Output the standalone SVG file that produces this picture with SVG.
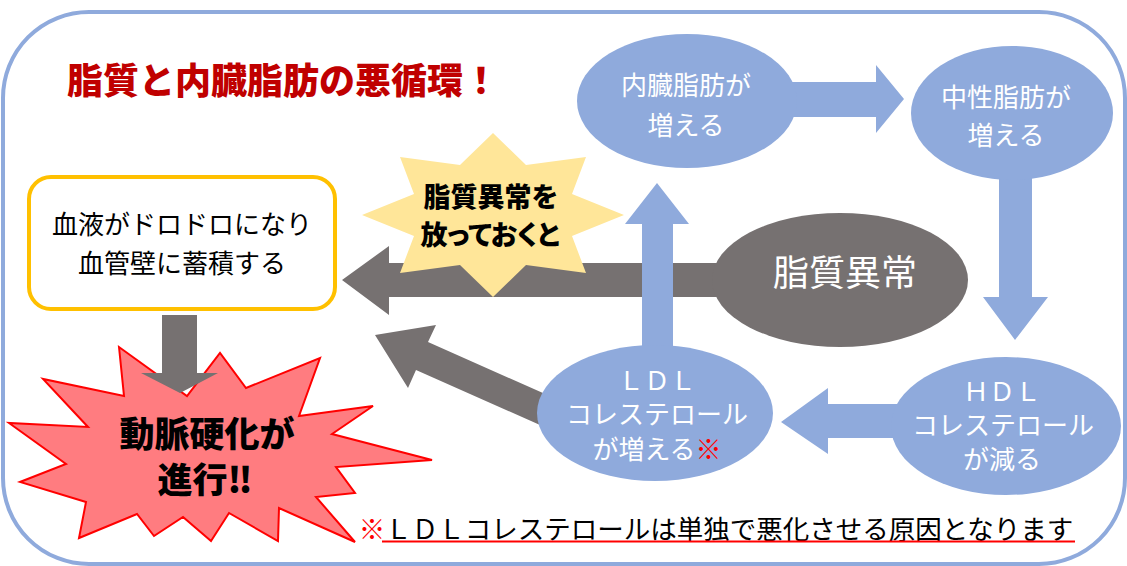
<svg xmlns="http://www.w3.org/2000/svg" width="1127" height="566" viewBox="0 0 1127 566">
<style>
text{font-family:"Noto Sans CJK JP","Noto Sans CJK SC",sans-serif;text-anchor:middle;dominant-baseline:central}
.blue{fill:#8faadc}
.gray{fill:#767171}
.wt{fill:#ffffff;font-size:26px}
.bk{fill:#000000}
.hv{font-weight:900}
</style>
<rect x="3" y="12" width="1122" height="552" rx="86" ry="86" fill="#ffffff" stroke="#8faadc" stroke-width="4"/>
<g id="title">
<text x="283" y="78" font-size="36" class="hv" fill="#c00000">脂質と内臓脂肪の悪循環！</text>
</g>
<g id="node-arteriosclerosis">
<polygon points="119,347 124,396 43,379 88,427 9,423 66,464 20,482 86,502 79,538 137,514 154,536 183,517 211,541 229,513 278,541 279,508 355,542 316,497 355,493 336,467 432,460 332,434 373,406 299,416 320,358 246,388 220,353 187,396" fill="#ff7c80" stroke="#ff0000" stroke-width="2" stroke-linejoin="miter"/>
<text x="207" y="431" font-size="35" class="bk hv">動脈硬化が</text>
<text x="205" y="477" font-size="35" class="bk hv">進行‼</text>
</g>
<g id="connectors">
<polygon class="gray" points="342,280 389,246 389,263 760,263 760,297 389,297 389,315"/>
<polygon class="blue" points="657,183 689,224 673,224 673,355 642,355 642,224 625,224"/>
<polygon class="blue" points="780,82 876,82 876,65 904,99 876,133 876,117 780,117"/>
<polygon class="blue" points="999,170 1032,170 1032,297 1048,297 1015,340 983,297 999,297"/>
<polygon class="blue" points="781,422 828,388 828,404 905,404 905,438 828,438 828,454"/>
<polygon class="gray" points="375,335 436,325 428,342 579,409 567,437 416,370 408,388"/>
<polygon class="gray" points="162,315 197,315 197,373 218,373 180,393 141,373 162,373"/>
</g>
<g id="node-visceral">
<ellipse class="blue" cx="687" cy="101" rx="110" ry="67"/>
<text class="wt" x="686" y="83">内臓脂肪が</text>
<text class="wt" x="686" y="123">増える</text>
</g>
<g id="node-neutral">
<ellipse class="blue" cx="1012" cy="113" rx="101" ry="67"/>
<text class="wt" x="1006" y="95">中性脂肪が</text>
<text class="wt" x="1006" y="133">増える</text>
</g>
<g id="node-hdl">
<ellipse class="blue" cx="1006" cy="426" rx="115" ry="69"/>
<text class="wt" x="1002" y="389">ＨＤＬ</text>
<text class="wt" x="1003" y="423">コレステロール</text>
<text class="wt" x="1002" y="457">が減る</text>
</g>
<g id="node-ldl">
<ellipse class="blue" cx="655" cy="413" rx="118" ry="68"/>
<text class="wt" x="657" y="378">ＬＤＬ</text>
<text class="wt" x="657" y="412">コレステロール</text>
<text class="wt" x="657" y="447">が増える<tspan fill="#ff0000" font-weight="700">※</tspan></text>
</g>
<g id="node-dyslipidemia">
<ellipse class="gray" cx="840" cy="280" rx="128" ry="67"/>
<text x="845" y="270" font-size="36" fill="#ffffff">脂質異常</text>
</g>
<g id="node-warning">
<polygon points="493,133 526,165 586,157 572,194 624,215 572,236 586,273 526,265 493,297 460,265 400,273 414,236 362,215 414,194 400,157 460,165" fill="#ffe699"/>
<text x="491" y="195" font-size="27" class="bk hv">脂質異常を</text>
<text x="490" y="233" font-size="27" class="bk hv" style="font-feature-settings:'palt'">放っておくと</text>
</g>
<g id="node-blood">
<rect x="29" y="177" width="306" height="132" rx="22" ry="22" fill="#ffffff" stroke="#ffc000" stroke-width="4"/>
<text x="182" y="222" font-size="26" fill="#000000">血液がドロドロになり</text>
<text x="182" y="261" font-size="26" fill="#000000">血管壁に蓄積する</text>
</g>
<g id="note">
<text x="716" y="527" font-size="26.5" fill="#000000"><tspan fill="#ff0000">※</tspan>ＬＤＬコレステロールは単独で悪化させる原因となります</text>
<line x1="382" y1="541.5" x2="1075" y2="541.5" stroke="#ff0000" stroke-width="2"/>
</g>
</svg>
